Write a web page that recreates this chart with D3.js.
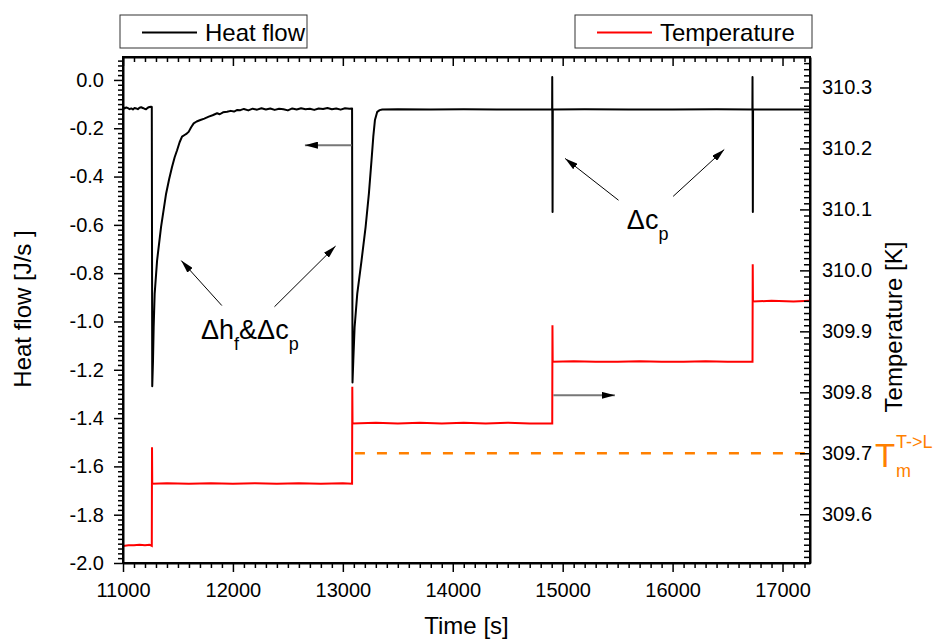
<!DOCTYPE html>
<html>
<head>
<meta charset="utf-8">
<script src="https://cdn.jsdelivr.net/npm/d3@7"></script>
<style>
  body { margin: 0; background: #fff; }
  svg text { font-family: "Liberation Sans", Arial, sans-serif; }
</style>
</head>
<body>
<svg id="chart" width="936" height="639"></svg>
<script>
// --- data ---
const hfTime = [
  11000, 11015, 11030, 11045, 11060, 11075, 11090, 11105, 11120, 11135, 11150, 11165, 11180, 11195, 11210, 11225, 11240, 11255, 11262,
  11266, 11273, 11279, 11288, 11310, 11346, 11392, 11420, 11446, 11470, 11492, 11515, 11537, 11560, 11580, 11597, 11620, 11643, 11670,
  11704, 11740, 11780, 11815, 11856, 11880, 11910, 11947, 11980, 12010, 12040, 12068, 12100,
  12140, 12180, 12220, 12260, 12300, 12340, 12380, 12420, 12460, 12500, 12540, 12580, 12620, 12660, 12700, 12740, 12780, 12820,
  12860, 12900, 12940, 12980, 13020, 13060, 13084,
  13088, 13095, 13107, 13131, 13170, 13207, 13237, 13261, 13277, 13292, 13313, 13335, 13359,
  13500, 13800, 14100, 14400, 14700, 14904, 14905, 14908, 14910, 15200, 15600, 16000, 16400,
  16726, 16727, 16730, 16732, 17000, 17250
];
const hfValue = [
  -0.112, -0.118, -0.114, -0.117, -0.121, -0.118, -0.122, -0.116, -0.118, -0.121, -0.115, -0.113, -0.116, -0.119, -0.121, -0.115, -0.112, -0.111, -0.112,
  -1.268, -1.163, -1.024, -0.886, -0.748, -0.609, -0.471, -0.410, -0.360, -0.320, -0.291, -0.258, -0.235, -0.228, -0.222, -0.215, -0.196, -0.180, -0.172,
  -0.166, -0.160, -0.152, -0.146, -0.138, -0.142, -0.134, -0.132, -0.128, -0.131, -0.124, -0.125, -0.120,
  -0.126, -0.119, -0.123, -0.117, -0.122, -0.118, -0.124, -0.119, -0.121, -0.126, -0.118, -0.122, -0.117, -0.121, -0.119, -0.124, -0.118, -0.120,
  -0.116, -0.121, -0.118, -0.123, -0.117, -0.119, -0.118,
  -1.253, -1.163, -1.024, -0.886, -0.748, -0.609, -0.471, -0.332, -0.235, -0.166, -0.132, -0.125, -0.122,
  -0.121, -0.122, -0.121, -0.122, -0.122, -0.122, 0.012, -0.547, -0.122, -0.121, -0.122, -0.122, -0.121,
  -0.122, 0.012, -0.547, -0.122, -0.122, -0.122
];

const tTime = [
  11000, 11050, 11100, 11150, 11200, 11240, 11262, 11264, 11266,
  11400, 11600, 11800, 12000, 12200, 12400, 12600, 12800, 13000, 13084, 13086, 13088,
  13300, 13500, 13700, 13900, 14100, 14300, 14500, 14700, 14905, 14907, 14909,
  15100, 15300, 15500, 15700, 15900, 16100, 16300, 16500, 16727, 16729, 16731,
  16900, 17100, 17250
];
const tValue = [
  309.548, 309.549, 309.549, 309.550, 309.549, 309.550, 309.548, 309.710, 309.650,
  309.651, 309.650, 309.651, 309.650, 309.651, 309.650, 309.651, 309.650, 309.651, 309.650, 309.809, 309.749,
  309.750, 309.749, 309.750, 309.749, 309.750, 309.749, 309.750, 309.749, 309.749, 309.910, 309.850,
  309.851, 309.850, 309.850, 309.851, 309.850, 309.850, 309.851, 309.850, 309.850, 310.010, 309.949,
  309.950, 309.949, 309.950
];

const meltTemp = 309.7;
const meltStart = 13110;

const xMajor = d3.range(11000, 17001, 1000);
const xMinor = d3.range(11000, 17250, 100).filter(v => v % 1000 !== 0);
const yLeftMajor = d3.range(-10, 1).map(i => i / 5);
const yLeftMinor = d3.range(-100, 5).filter(i => i % 10 !== 0).map(i => i / 50);
const yRightMajor = d3.range(3096, 3104).map(i => i / 10);
const yRightMinor = d3.range(30953, 31035).filter(i => i % 10 !== 0).map(i => i / 100);

const svg = d3.select("#chart");
const pLeft = 123, pRight = 810, pTop = 57, pBottom = 563;
const orange = "#FF8000";

const x = d3.scaleLinear().domain([11000, 17250]).range([pLeft, pRight]);
const yL = d3.scaleLinear().domain([-2.0, 0.095]).range([pBottom, pTop]);
const yR = d3.scaleLinear().domain([309.52, 310.35]).range([pBottom, pTop]);

const defs = svg.append("defs");
defs.append("clipPath").attr("id", "plotClip")
  .append("rect").attr("x", pLeft).attr("y", pTop).attr("width", pRight - pLeft).attr("height", pBottom - pTop);
defs.append("marker").attr("id", "head")
  .attr("viewBox", "0 0 13 7").attr("refX", 13).attr("refY", 3.5)
  .attr("markerWidth", 13).attr("markerHeight", 7)
  .attr("markerUnits", "userSpaceOnUse").attr("orient", "auto")
  .append("path").attr("d", "M0,0L13,3.5L0,7Z").attr("fill", "#000");

// --- lines ---
const plot = svg.append("g").attr("clip-path", "url(#plotClip)");

const hfLine = d3.line().x(d => x(d[0])).y(d => yL(d[1]));
const tLine = d3.line().x(d => x(d[0])).y(d => yR(d[1]));

plot.append("path")
  .datum(hfTime.map((t, i) => [t, hfValue[i]]))
  .attr("fill", "none").attr("stroke", "#000").attr("stroke-width", 2)
  .attr("stroke-linejoin", "round")
  .attr("d", hfLine);

plot.append("path")
  .datum(tTime.map((t, i) => [t, tValue[i]]))
  .attr("fill", "none").attr("stroke", "#FF0000").attr("stroke-width", 2)
  .attr("d", tLine);

plot.append("line")
  .attr("x1", x(meltStart)).attr("x2", pRight)
  .attr("y1", yR(meltTemp)).attr("y2", yR(meltTemp))
  .attr("stroke", orange).attr("stroke-width", 2.5)
  .attr("stroke-dasharray", "10,12");

// --- axes ---
function styleAxis(g, major) {
  g.select(".domain").attr("stroke-width", 2);
  g.selectAll(".tick line").attr("stroke-width", 1.5);
  g.selectAll("text").attr("font-size", 20).attr("fill", "#000")
    .attr("font-family", "Liberation Sans, Arial, sans-serif");
  if (!major) g.select(".domain").remove();
}

const fmt1 = d => d.toFixed(1);

svg.append("g").attr("transform", `translate(0,${pBottom})`)
  .call(d3.axisBottom(x).tickValues(xMinor).tickSize(5).tickSizeOuter(0).tickFormat(""))
  .call(g => styleAxis(g, false));
svg.append("g").attr("transform", `translate(0,${pBottom})`)
  .call(d3.axisBottom(x).tickValues(xMajor).tickSize(9).tickSizeOuter(0).tickPadding(11).tickFormat(d3.format("d")))
  .call(g => styleAxis(g, true));

svg.append("g").attr("transform", `translate(0,${pTop})`)
  .call(d3.axisTop(x).tickValues(xMinor).tickSize(-5).tickSizeOuter(0).tickFormat(""))
  .call(g => styleAxis(g, false));
svg.append("g").attr("transform", `translate(0,${pTop})`)
  .call(d3.axisTop(x).tickValues(xMajor).tickSize(-9).tickSizeOuter(0).tickFormat(""))
  .call(g => styleAxis(g, true));

svg.append("g").attr("transform", `translate(${pLeft},0)`)
  .call(d3.axisLeft(yL).tickValues(yLeftMinor).tickSize(5).tickSizeOuter(0).tickFormat(""))
  .call(g => styleAxis(g, false));
svg.append("g").attr("transform", `translate(${pLeft},0)`)
  .call(d3.axisLeft(yL).tickValues(yLeftMajor).tickSize(9).tickSizeOuter(0).tickPadding(10).tickFormat(fmt1))
  .call(g => styleAxis(g, true));

svg.append("g").attr("transform", `translate(${pRight},0)`)
  .call(d3.axisRight(yR).tickValues(yRightMinor).tickSize(-6).tickSizeOuter(0).tickFormat(""))
  .call(g => styleAxis(g, false));
svg.append("g").attr("transform", `translate(${pRight},0)`)
  .call(d3.axisRight(yR).tickValues(yRightMajor).tickSize(-10).tickSizeOuter(0).tickPadding(12).tickFormat(fmt1))
  .call(g => styleAxis(g, true));

// full frame
svg.append("rect").attr("x", pLeft).attr("y", pTop)
  .attr("width", pRight - pLeft).attr("height", pBottom - pTop)
  .attr("fill", "none").attr("stroke", "#000").attr("stroke-width", 2);

// --- axis titles ---
svg.append("text").attr("x", (pLeft + pRight) / 2).attr("y", 634)
  .attr("text-anchor", "middle").attr("font-size", 24).text("Time [s]");
svg.append("text").attr("transform", "translate(31,309) rotate(-90)")
  .attr("text-anchor", "middle").attr("font-size", 24).text("Heat flow [J/s ]");
svg.append("text").attr("transform", "translate(902,327) rotate(-90)")
  .attr("text-anchor", "middle").attr("font-size", 24).text("Temperature [K]");

// --- legends ---
const legends = [
  {x: 120, w: 187, color: "#000", label: "Heat flow"},
  {x: 575, w: 237, color: "#FF0000", label: "Temperature"}
];
legends.forEach(l => {
  const g = svg.append("g");
  g.append("rect").attr("x", l.x).attr("y", 15).attr("width", l.w).attr("height", 33)
    .attr("fill", "#fff").attr("stroke", "#333").attr("stroke-width", 1);
  g.append("line").attr("x1", l.x + 22).attr("x2", l.x + 77).attr("y1", 32.5).attr("y2", 32.5)
    .attr("stroke", l.color).attr("stroke-width", 2);
  g.append("text").attr("x", l.x + 85).attr("y", 40.5).attr("font-size", 24).text(l.label);
});

// --- annotations (data coordinates) ---
const grayArrows = [
  {from: [13080, -0.27], to: [12655, -0.27], axis: "L"},
  {from: [14915, 309.795], to: [15475, 309.795], axis: "R"}
];
const blackArrows = [
  {from: [11899, -0.934], to: [11530, -0.748]},
  {from: [12378, -0.939], to: [12934, -0.688]},
  {from: [15508, -0.498], to: [15022, -0.325]},
  {from: [16005, -0.482], to: [16470, -0.288]}
];
grayArrows.forEach(a => {
  const y = a.axis === "L" ? yL : yR;
  svg.append("line")
    .attr("x1", x(a.from[0])).attr("y1", y(a.from[1]))
    .attr("x2", x(a.to[0])).attr("y2", y(a.to[1]))
    .attr("stroke", "#777").attr("stroke-width", 2)
    .attr("marker-end", "url(#head)");
});
blackArrows.forEach(a => {
  svg.append("line")
    .attr("x1", x(a.from[0])).attr("y1", yL(a.from[1]))
    .attr("x2", x(a.to[0])).attr("y2", yL(a.to[1]))
    .attr("stroke", "#000").attr("stroke-width", 1)
    .attr("marker-end", "url(#head)");
});

const lab1 = svg.append("text").attr("x", x(11710)).attr("y", yL(-1.071)).attr("font-size", 27);
lab1.append("tspan").text("Δh");
lab1.append("tspan").attr("font-size", 18).attr("dy", 11).text("f");
lab1.append("tspan").attr("dy", -11).text("&Δc");
lab1.append("tspan").attr("font-size", 18).attr("dy", 11).text("p");

const lab2 = svg.append("text").attr("x", x(15584)).attr("y", yL(-0.616)).attr("font-size", 27);
lab2.append("tspan").text("Δc");
lab2.append("tspan").attr("font-size", 18).attr("dy", 11).text("p");

const tmY = yR(meltTemp);
svg.append("text").attr("x", pRight + 65).attr("y", tmY + 13.5)
  .attr("font-size", 33).attr("fill", orange).text("T");
svg.append("text").attr("x", pRight + 86).attr("y", tmY + 23.5)
  .attr("font-size", 18).attr("fill", orange).text("m");
svg.append("text").attr("x", pRight + 86).attr("y", tmY - 5)
  .attr("font-size", 18).attr("fill", orange).text("T->L");
</script>
</body>
</html>
